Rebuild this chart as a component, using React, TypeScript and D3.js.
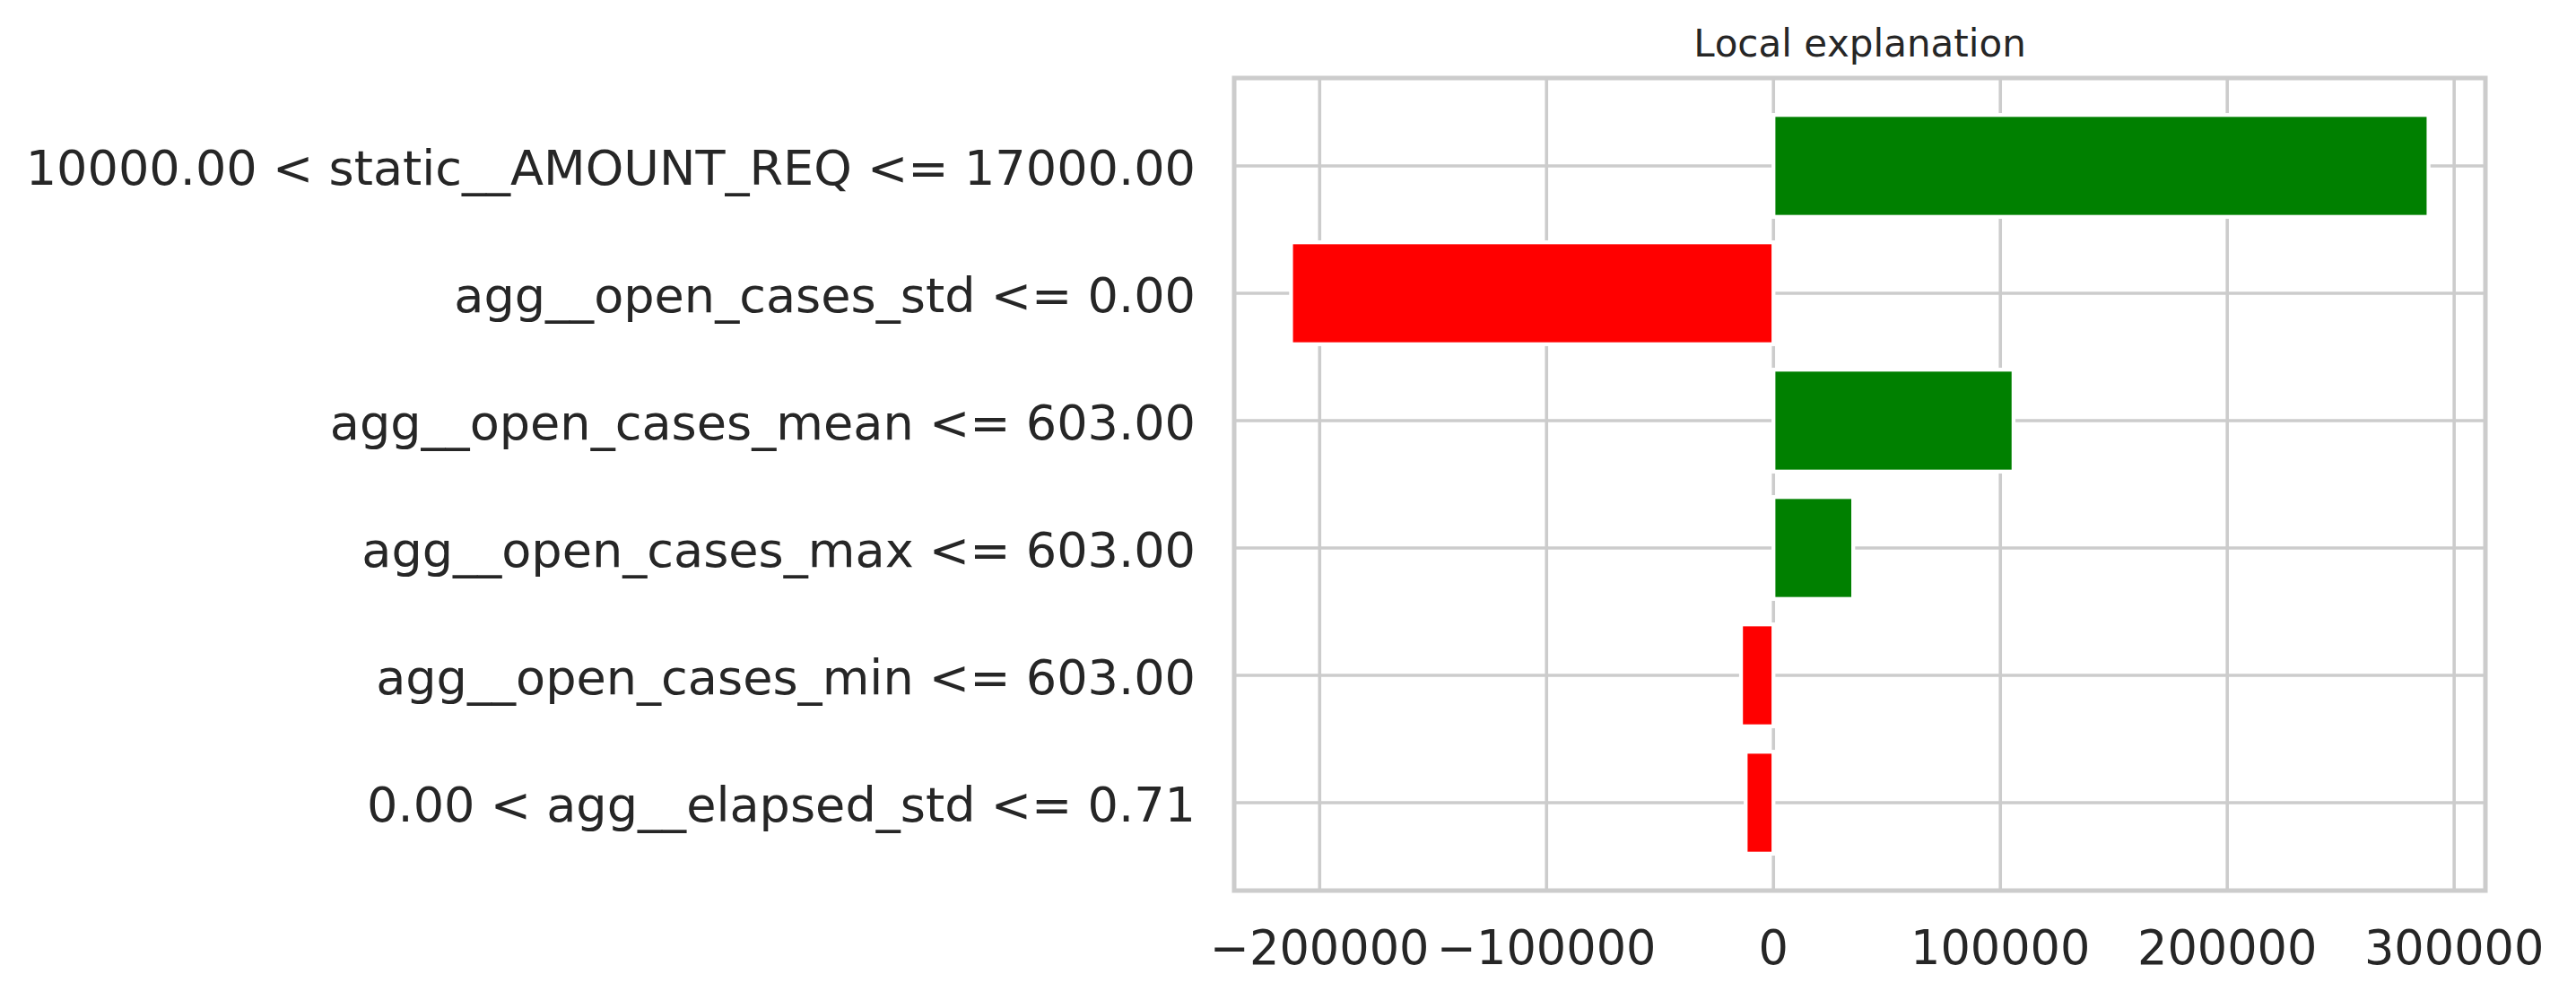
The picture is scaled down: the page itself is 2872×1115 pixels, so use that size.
import React from "react";
import * as d3 from "d3";

const features: string[] = [
  "10000.00 < static__AMOUNT_REQ <= 17000.00",
  "agg__open_cases_std <= 0.00",
  "agg__open_cases_mean <= 603.00",
  "agg__open_cases_max <= 603.00",
  "agg__open_cases_min <= 603.00",
  "0.00 < agg__elapsed_std <= 0.71",
];
const weights: number[] = [288700, -212600, 105800, 35150, -14300, -12250];
const xTicks: number[] = [-200000, -100000, 0, 100000, 200000, 300000];
const title = "Local explanation";

const W = 2872;
const H = 1115;
const left = 1376;
const right = 2771;
const top = 87;
const bottom = 993;
const FONT = "'DejaVu Sans', sans-serif";
const TEXT = "#262626";
const GRID = "#cccccc";
const textStyle: React.CSSProperties = { fontKerning: "none", fontVariantLigatures: "none" };

export default function App() {
  const minV = Math.min(0, d3.min(weights) as number);
  const maxV = Math.max(0, d3.max(weights) as number);
  const span = maxV - minV;
  const x = d3
    .scaleLinear()
    .domain([minV - 0.05 * span, maxV + 0.05 * span])
    .range([left, right]);
  const n = features.length;
  const barH = 0.8;
  const yLo = -barH / 2;
  const yHi = n - 1 + barH / 2;
  const ySpan = yHi - yLo;
  const y = d3
    .scaleLinear()
    .domain([yLo - 0.05 * ySpan, yHi + 0.05 * ySpan])
    .range([top, bottom]);
  const bh = y(barH) - y(0);
  const fmt = d3.format("d");
  const minus = (v: number) => (v < 0 ? "\u2212" + fmt(-v) : fmt(v));

  return (
    <svg
      width={W}
      height={H}
      style={{ position: "absolute", left: 0, top: 0, display: "block", background: "#fff" }}
    >
      <rect x={0} y={0} width={W} height={H} fill="#fff" />
      {/* grid */}
      {xTicks.map((t) => (
        <line key={"gx" + t} x1={x(t)} x2={x(t)} y1={top} y2={bottom} stroke={GRID} strokeWidth={3.6} />
      ))}
      {features.map((f, i) => (
        <line key={"gy" + i} x1={left} x2={right} y1={y(i)} y2={y(i)} stroke={GRID} strokeWidth={3.6} />
      ))}
      {/* bars */}
      {weights.map((w, i) => (
        <rect
          key={"b" + i}
          x={Math.min(x(0), x(w))}
          y={y(i) - bh / 2}
          width={Math.abs(x(w) - x(0))}
          height={bh}
          fill={w > 0 ? "#008000" : "#ff0000"}
          stroke="#ffffff"
          strokeWidth={4.3}
        />
      ))}
      {/* frame */}
      <rect x={left} y={top} width={right - left} height={bottom - top} fill="none" stroke={GRID} strokeWidth={5} />
      {/* y labels */}
      {features.map((f, i) => (
        <text
          key={"yl" + i}
          x={1333}
          y={y(i) + 21}
          textAnchor="end"
          fontFamily={FONT}
          fontSize={54.1}
          fill={TEXT}
          style={textStyle}
        >
          {f}
        </text>
      ))}
      {/* x labels */}
      {xTicks.map((t) => (
        <text
          key={"xl" + t}
          x={x(t)}
          y={1075}
          textAnchor="middle"
          fontFamily={FONT}
          fontSize={52.5}
          fill={TEXT}
          style={textStyle}
        >
          {minus(t)}
        </text>
      ))}
      <text
        x={(left + right) / 2}
        y={63}
        textAnchor="middle"
        fontFamily={FONT}
        fontSize={42}
        fill={TEXT}
        style={textStyle}
      >
        {title}
      </text>
    </svg>
  );
}
